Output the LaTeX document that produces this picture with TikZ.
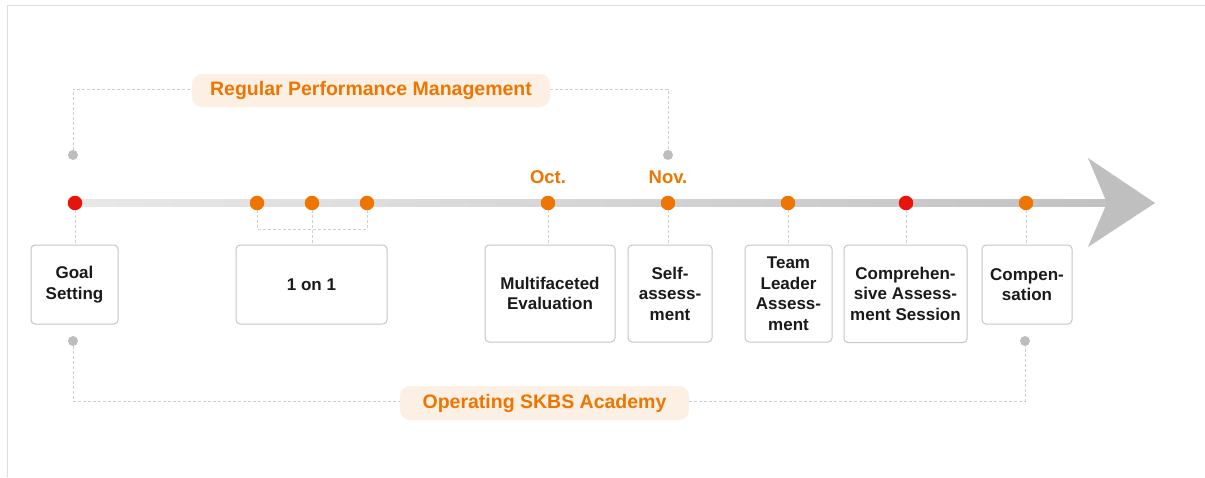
\documentclass[tikz,border=0pt]{standalone}
\usepackage{fontspec}
\setmainfont{Liberation Sans}
\usetikzlibrary{calc}
\definecolor{orng}{HTML}{EE7500}
\definecolor{redd}{HTML}{E8140C}
\definecolor{peach}{HTML}{FCEFE3}
\definecolor{dashc}{HTML}{CFCFCF}
\definecolor{boxc}{HTML}{C6C6C6}
\definecolor{graydot}{HTML}{BDBDBD}
\definecolor{arrowc}{HTML}{BFBFBF}
\definecolor{txt}{HTML}{1A1A1A}
\definecolor{framec}{HTML}{DEDEDE}
\begin{document}
\begin{tikzpicture}[x=1pt,y=-1pt,
  stepbox/.style={draw=boxc, line width=1pt, rounded corners=4pt, fill=white, align=center, inner sep=0pt,
    text=txt, font=\bfseries\fontsize{17}{20.5}\selectfont},
  tdot/.style={circle, minimum size=14.5pt, inner sep=0pt},
  gdot/.style={circle, minimum size=10pt, inner sep=0pt, fill=graydot},
  conn/.style={draw=dashc, line width=0.9pt, dash pattern=on 3pt off 2pt},
  titlebox/.style={fill=peach, rounded corners=10pt, text=orng, inner sep=0pt,
    font=\bfseries\fontsize{19.5}{22}\selectfont},
  month/.style={text=orng, font=\bfseries\fontsize{18.5}{22}\selectfont}]
\useasboundingbox (0,0) rectangle (1205,477);
\fill[white] (0,0) rectangle (1205,477);
\draw[framec, line width=1.5pt] (7.5,477) -- (7.5,5.5) -- (1205,5.5);

% timeline bar and arrow head
\shade[left color=black!9, right color=black!24] (75,199.5) rectangle (1108,206.5);
\fill[arrowc] (1107,203) -- (1088,158) -- (1155,203) -- (1088,247) -- cycle;

% boxes
\node[stepbox, minimum width=87pt, minimum height=79pt] (goal) at (74.5,284.5) {Goal\\Setting};
\node[stepbox, minimum width=151pt, minimum height=79pt] (one) at (311.5,284.5) {1 on 1};
\node[stepbox, minimum width=130pt, minimum height=97pt] (multi) at (550,293.5) {Multifaceted\\Evaluation};
\node[stepbox, minimum width=84pt, minimum height=97pt] (self) at (670,293.5) {Self-\\assess-\\ment};
\node[stepbox, minimum width=87pt, minimum height=97pt] (team) at (788.5,293.5) {Team\\Leader\\Assess-\\ment};
\node[stepbox, minimum width=123pt, minimum height=97.5pt] (comp) at (905.5,293.8) {Comprehen-\\sive Assess-\\ment Session};
\node[stepbox, minimum width=90pt, minimum height=79pt] (pay) at (1027,284.5) {Compen-\\sation};

% title boxes
\node[titlebox, minimum width=358pt, minimum height=33pt] (top) at (371,90.5) {Regular Performance Management};
\node[titlebox, minimum width=289pt, minimum height=34pt] (bot) at (544.5,403) {Operating SKBS Academy};

% gray end dots
\node[gdot] (g1) at (73,155) {};
\node[gdot] (g2) at (668,155) {};
\node[gdot] (g3) at (73,341) {};
\node[gdot] (g4) at (1025,341) {};

% timeline dots
\node[tdot, fill=redd] (d1) at (75,203) {};
\node[tdot, fill=orng] (d2) at (257,203) {};
\node[tdot, fill=orng] (d3) at (312,203) {};
\node[tdot, fill=orng] (d4) at (367,203) {};
\node[tdot, fill=orng] (d5) at (548,203) {};
\node[tdot, fill=orng] (d6) at (668,203) {};
\node[tdot, fill=orng] (d7) at (788,203) {};
\node[tdot, fill=redd] (d8) at (906,203) {};
\node[tdot, fill=orng] (d9) at (1026,203) {};

% month labels
\node[month] (oct) at (548,177) {Oct.};
\node[month] (nov) at (668,177) {Nov.};

% connectors
\coordinate (br) at (312,229);
\draw[conn] (d1.south) -- (d1.south |- goal.north);
\draw[conn] (d2.south) -- (d2.south |- br) -- (d4.south |- br) -- (d4.south);
\draw[conn] (d3.south) -- (d3.south |- one.north);
\draw[conn] (d5.south) -- (d5.south |- multi.north);
\draw[conn] (d6.south) -- (d6.south |- self.north);
\draw[conn] (d7.south) -- (d7.south |- team.north);
\draw[conn] (d8.south) -- (d8.south |- comp.north);
\draw[conn] (d9.south) -- (d9.south |- pay.north);

\draw[conn] (g1.north) |- ($(top.west)+(0,-1.5)$);
\draw[conn] ($(top.east)+(0,-1.5)$) -| (g2.north);
\draw[conn] (g3.south) |- ($(bot.west)+(0,-2)$);
\draw[conn] ($(bot.east)+(0,-2)$) -| (g4.south);
\end{tikzpicture}
\end{document}
